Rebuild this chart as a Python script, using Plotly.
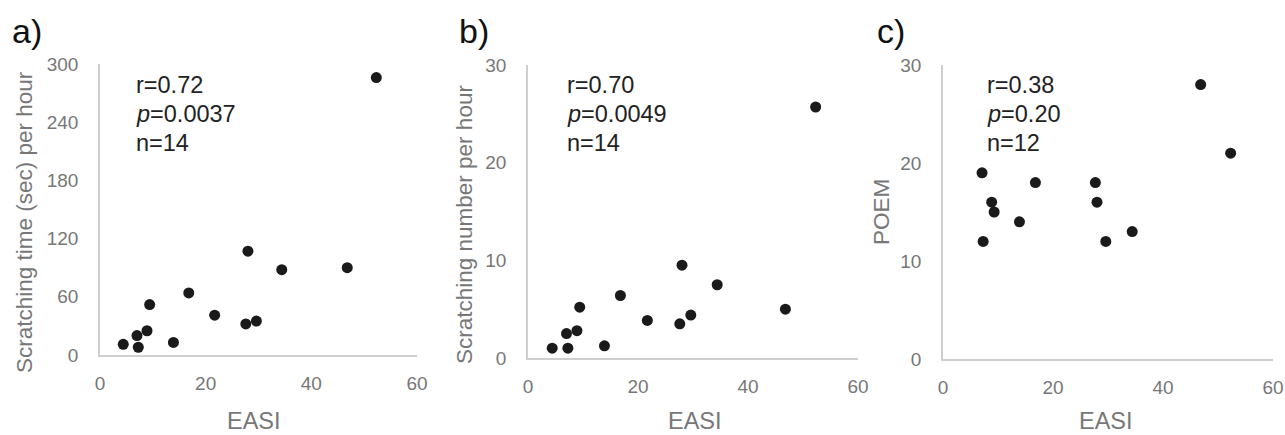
import plotly.graph_objects as go

# ---- data ----
easi_ab = [4.4, 7.0, 7.25, 8.9, 9.4, 13.9, 16.8, 21.7, 27.6, 28.0, 29.6, 34.4, 46.8, 52.3]
scratch_time = [11, 20, 8, 25, 52, 13, 64, 41, 32, 107, 35, 88, 90, 286]
scratch_number = [1.0, 2.5, 1.0, 2.8, 5.2, 1.25, 6.4, 3.85, 3.5, 9.5, 4.4, 7.5, 5.0, 25.7]
easi_c = [7.1, 7.3, 8.85, 9.3, 13.9, 16.8, 27.7, 28.0, 29.6, 34.4, 46.85, 52.3]
poem = [19, 12, 16, 15, 14, 18, 18, 16, 12, 13, 28, 21]

stats_a = ["r=0.72", "<i>p</i>=0.0037", "n=14"]
stats_b = ["r=0.70", "<i>p</i>=0.0049", "n=14"]
stats_c = ["r=0.38", "<i>p</i>=0.20", "n=12"]

W, H = 1285, 435
FONT = "Liberation Sans, Arial, sans-serif"
GRAY = "#777777"
AXC = "#cfcfcf"

def px(x):
    return x / W

def py(y):
    return 1 - y / H

fig = go.Figure()
mk = dict(size=11, color="#1a1a1a", line=dict(width=0))
fig.add_trace(go.Scatter(x=easi_ab, y=scratch_time, mode="markers", marker=mk, xaxis="x", yaxis="y"))
fig.add_trace(go.Scatter(x=easi_ab, y=scratch_number, mode="markers", marker=mk, xaxis="x2", yaxis="y2"))
fig.add_trace(go.Scatter(x=easi_c, y=poem, mode="markers", marker=mk, xaxis="x3", yaxis="y3"))

panels = [
    dict(xd=(100, 417), yd=(64, 355), yr=[0, 300], dt=60),
    dict(xd=(528, 858), yd=(65, 358), yr=[0, 30], dt=10),
    dict(xd=(943, 1273), yd=(65, 359), yr=[0, 30], dt=10),
]

layout = dict(
    width=W, height=H,
    margin=dict(l=0, r=0, t=0, b=0),
    paper_bgcolor="white", plot_bgcolor="white",
    showlegend=False,
    font=dict(family=FONT, color=GRAY, size=19),
)
for i, p in enumerate(panels):
    s = "" if i == 0 else str(i + 1)
    layout["xaxis" + s] = dict(
        domain=[px(p["xd"][0]), px(p["xd"][1])], range=[0, 60], dtick=20, tick0=0,
        showgrid=False, zeroline=False, showline=True, linecolor=AXC, linewidth=1.6,
        ticks="", ticklabelstandoff=10, tickfont=dict(size=19, color=GRAY, family=FONT),
        anchor="y" + s, automargin=False, fixedrange=True,
    )
    layout["yaxis" + s] = dict(
        domain=[py(p["yd"][1]), py(p["yd"][0])], range=p["yr"], dtick=p["dt"], tick0=0,
        showgrid=False, zeroline=False, showline=True, linecolor=AXC, linewidth=1.6,
        ticks="", ticklabelstandoff=16, tickfont=dict(size=19, color=GRAY, family=FONT),
        anchor="x" + s, automargin=False, fixedrange=True,
    )
fig.update_layout(**layout)

ann = []
# panel letters
for lbl, x in [("a)", 10), ("b)", 457), ("c)", 875)]:
    ann.append(dict(text=lbl, x=px(x), y=py(31), xref="paper", yref="paper",
                    xanchor="left", yanchor="middle", showarrow=False,
                    font=dict(size=34, color="#111111", family=FONT)))
# stats text
for stats, x in [(stats_a, 134), (stats_b, 565), (stats_c, 985)]:
    for j, line in enumerate(stats):
        ann.append(dict(text=line, x=px(x), y=py(85 + 29 * j), xref="paper", yref="paper",
                        xanchor="left", yanchor="middle", showarrow=False,
                        font=dict(size=23.5, color="#222222", family=FONT)))
# axis titles
for x in [254, 695, 1106]:
    ann.append(dict(text="EASI", x=px(x), y=py(421), xref="paper", yref="paper",
                    xanchor="center", yanchor="middle", showarrow=False,
                    font=dict(size=23.5, color=GRAY, family=FONT)))
for t, x, y in [("Scratching time (sec) per hour", 24, 222),
                ("Scratching number per hour", 464, 225),
                ("POEM", 882, 212)]:
    ann.append(dict(text=t, x=px(x), y=py(y), xref="paper", yref="paper",
                    xanchor="center", yanchor="middle", textangle=-90, showarrow=False,
                    font=dict(size=22.5, color=GRAY, family=FONT)))
fig.update_layout(annotations=ann)

fig.write_html("out.html")
